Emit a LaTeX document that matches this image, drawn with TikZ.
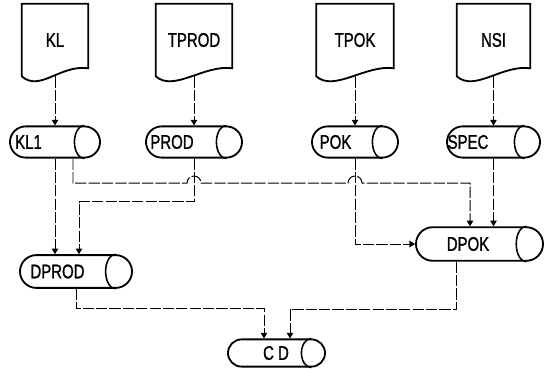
\documentclass[tikz,border=0pt]{standalone}
\usepackage{fontspec}
\newfontfamily\chartfont[FakeStretch=0.76,FakeBold=1.2]{Liberation Sans}
\usetikzlibrary{arrows.meta,calc}
\tikzset{
  doc/.style={rectangle, minimum height=1.8cm, font=\chartfont\fontsize{14}{16}\selectfont},
  drum/.style={draw, line width=1.3pt, rectangle, minimum height=#1, rounded corners=0.5*#1},
  drum/.default=0.78cm,
  lbl/.style={font=\chartfont\fontsize{14}{16}\selectfont},
  flow/.style={line width=0.7pt, dash pattern=on 8pt off 1.5pt, -{Triangle[length=0.14cm,width=0.16cm]}}
}
\begin{document}
\begin{tikzpicture}[x=0.025cm, y=-0.025cm]
    \useasboundingbox (0,0) rectangle (544,368);
    % Source documents
    \node[doc, minimum width=1.65cm] (kl) at (55,40) {KL};
    \node[doc, minimum width=1.9cm] (tprod) at (194,40) {TPROD};
    \node[doc, minimum width=1.925cm] (tpok) at (355,40) {TPOK};
    \node[doc, minimum width=1.825cm] (nsi) at (493.5,40) {NSI};
    \foreach \f in {kl,tprod,tpok,nsi}
        \draw[line width=1.3pt] (\f.south west) -- (\f.north west) -- (\f.north east) -- ($(\f.south east)+(0,-8)$) .. controls +(-28,-4) and +(18,16) .. (\f.south west) -- cycle;
    % Storage files
    \node[drum, minimum width=2.25cm] (kl1) at (55,142) {};
    \node[drum, minimum width=2.4cm] (prod) at (194,142) {};
    \node[drum, minimum width=2.15cm] (pok) at (355,142) {};
    \node[drum, minimum width=2.325cm] (spec) at (493.5,142) {};
    \node[drum=0.82cm, minimum width=2.8cm] (dprod) at (76,271.5) {};
    \node[drum=0.84cm, minimum width=3.175cm] (dpok) at (479.5,244) {};
    \node[drum=0.68cm, minimum width=2.425cm] (cd) at (276.5,353) {};
    \foreach \f in {kl1,prod,pok,spec,dprod,dpok,cd}
        \draw[line width=1.1pt] let \p1=($(\f.north)-(\f.south)$) in ([xshift=-0.5*\y1]\f.north east) arc[start angle=90, end angle=270, x radius=0.25cm, y radius=0.5*\y1];
    % File names
    \node[lbl] (kl1-t) at (28.5,142) {KL1};
    \node[lbl] (prod-t) at (172,142) {PROD};
    \node[lbl] (pok-t) at (335.5,142) {POK};
    \node[lbl] (spec-t) at (468,142) {SPEC};
    \node[lbl] (dprod-t) at (57.5,271.5) {DPROD};
    \node[lbl] (dpok-t) at (468,244) {DPOK};
    \node[lbl] (cd-t) at (276,353) {C D};
    % Flows
    \draw[flow] (kl) -- (kl1);
    \draw[flow] (tprod) -- (prod);
    \draw[flow] (tpok) -- (pok);
    \draw[flow] (nsi) -- (spec);
    \draw[flow] (kl1.south) -- (kl1.south |- dprod.north);
    \draw[flow] ($(kl1.south)+(18,0)$) |- ($(prod.south)+(-7,24.5)$) arc[start angle=180, end angle=0, radius=0.175cm] -- ($(pok.south)+(-7,24.5)$) arc[start angle=180, end angle=0, radius=0.175cm] -| ($(dpok.north)+(-9.5,0)$);
    \draw[flow] (prod.south) -- ++(0,43) -| ($(dprod.north)+(3,0)$);
    \draw[flow] (pok.south) |- (dpok.west);
    \draw[flow] (spec.south) -- (spec.south |- dpok.north);
    \draw[flow] (dprod.south) -- ++(0,20) -| ($(cd.north)+(-12.5,0)$);
    \draw[flow] ($(dpok.south)+(-23.5,0)$) -- ++(0,48) -| ($(cd.north)+(13.5,0)$);
\end{tikzpicture}
\end{document}
